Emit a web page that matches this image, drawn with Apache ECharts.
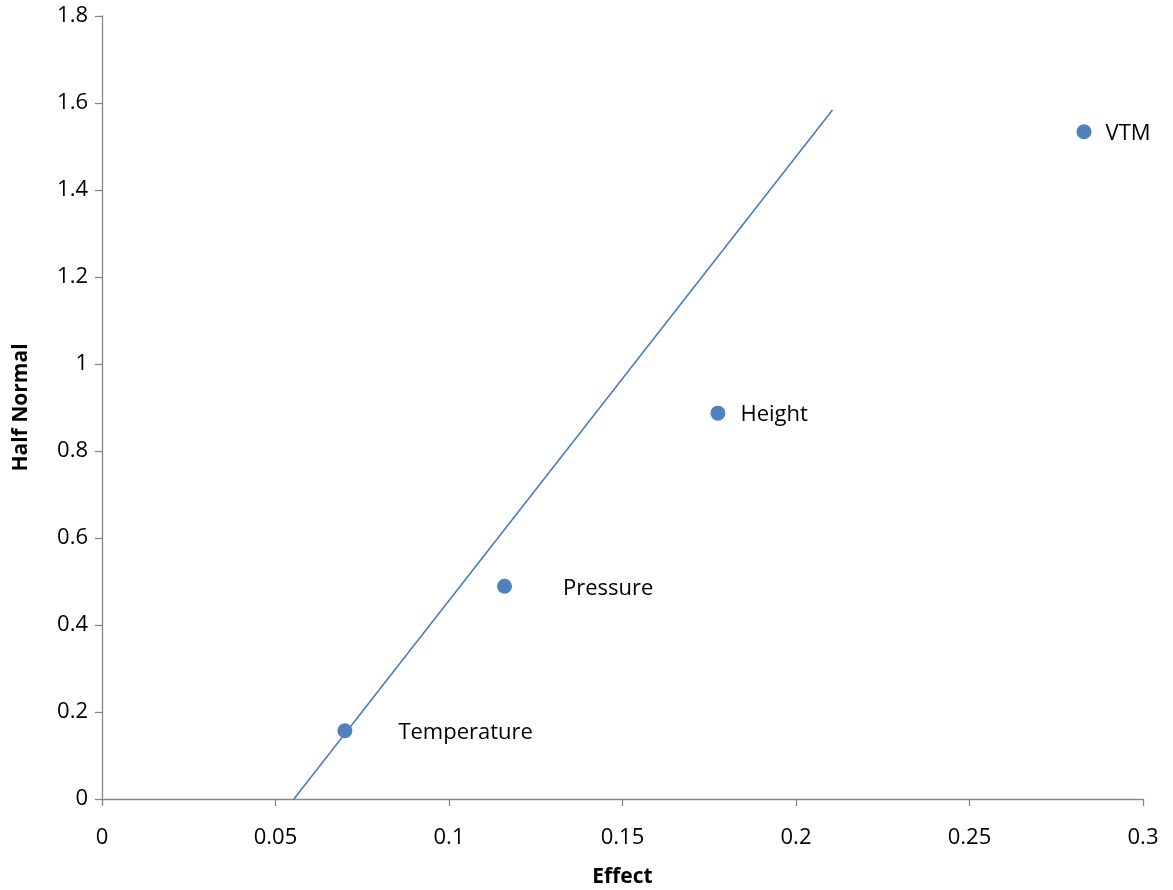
<!DOCTYPE html>
<html>
<head>
<meta charset="utf-8">
<script src="https://cdn.jsdelivr.net/npm/echarts@6/dist/echarts.min.js"></script>
<style>
  html, body { margin: 0; padding: 0; background: #fff; }
  #chart { width: 1173px; height: 890px; }
</style>
</head>
<body>
<div id="chart"></div>
<script>
// factors and their half-normal plot coordinates
const factorNames = ['Temperature', 'Pressure', 'Height', 'VTM'];
const effects = [0.070, 0.116, 0.1775, 0.283];
const halfNormal = [0.157, 0.489, 0.887, 1.534];

// reference line drawn through the small effects
const lineX = [0.0553, 0.2105];
const lineY = [0, 1.584];

const xTicks = { min: 0, max: 0.3, interval: 0.05 };
const yTicks = { min: 0, max: 1.8, interval: 0.2 };

// label gap to the right of each marker (data labels were nudged by hand)
const labelGap = [46, 51, 15, 14];

const font = '"Open Sans", Lato, sans-serif';
const axisGray = '#868686';

const chart = echarts.init(document.getElementById('chart'));

const option = {
  backgroundColor: '#fff',
  animation: false,
  textStyle: { fontFamily: font },
  grid: { left: 102, right: 30, top: 16, bottom: 91, containLabel: false, outerBoundsMode: 'none' },
  xAxis: {
    type: 'value',
    min: xTicks.min,
    max: xTicks.max,
    interval: xTicks.interval,
    name: 'Effect',
    nameLocation: 'middle',
    nameGap: 68,
    nameTextStyle: { fontFamily: font, fontSize: 21, fontWeight: 'bold', color: '#000' },
    axisLine: { lineStyle: { color: axisGray, width: 1.3 } },
    axisTick: { show: true, length: 7, lineStyle: { color: axisGray, width: 1.3 } },
    axisLabel: { fontFamily: font, fontSize: 22, color: '#000', margin: 28 },
    splitLine: { show: false }
  },
  yAxis: {
    type: 'value',
    min: yTicks.min,
    max: yTicks.max,
    interval: yTicks.interval,
    name: 'Half Normal',
    nameLocation: 'middle',
    nameGap: 70,
    nameTextStyle: { fontFamily: font, fontSize: 21, fontWeight: 'bold', color: '#000' },
    axisLine: { show: true, lineStyle: { color: axisGray, width: 1.3 } },
    axisTick: { show: true, length: 7, lineStyle: { color: axisGray, width: 1.3 } },
    axisLabel: { fontFamily: font, fontSize: 22, color: '#000', margin: 14 },
    splitLine: { show: false }
  },
  series: [
    {
      type: 'line',
      data: lineX.map((x, i) => [x, lineY[i]]),
      symbol: 'none',
      lineStyle: { color: '#4A7EBB', width: 1.6 },
      z: 2
    },
    {
      type: 'scatter',
      data: effects.map((x, i) => ({
        value: [x, halfNormal[i]],
        name: factorNames[i],
        label: { distance: labelGap[i] }
      })),
      symbol: 'circle',
      symbolSize: 15,
      itemStyle: { color: '#4F81BD', opacity: 1 },
      label: {
        show: true,
        position: 'right',
        formatter: p => p.name,
        fontFamily: font,
        fontSize: 22,
        color: '#000',
        offset: [0, 2]
      },
      z: 3
    }
  ]
};

chart.setOption(option);
window.addEventListener('resize', () => chart.resize());
</script>
</body>
</html>
